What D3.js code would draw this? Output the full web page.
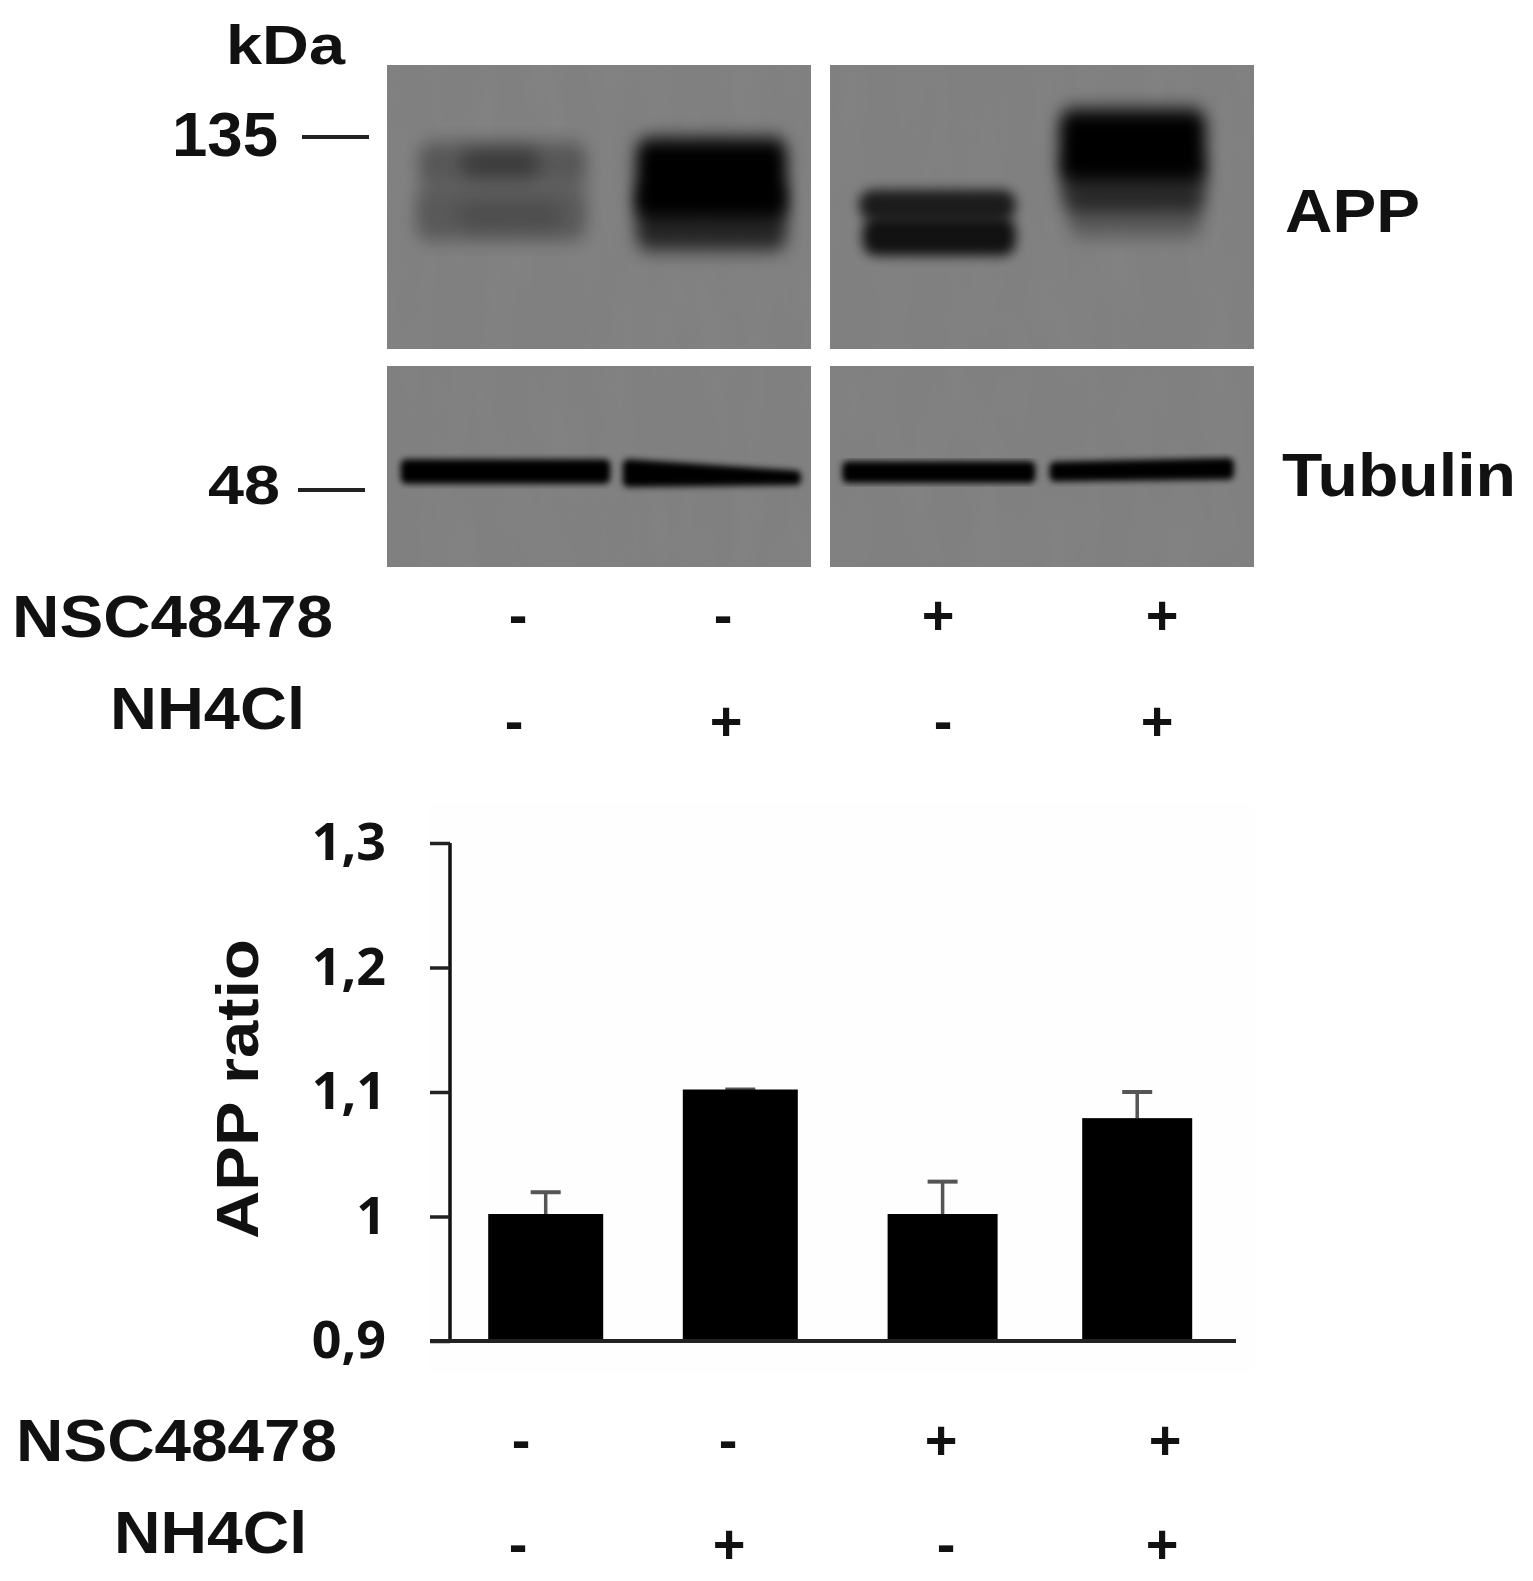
<!DOCTYPE html>
<html><head><meta charset="utf-8"><style>html,body{margin:0;background:#fff}svg{display:block;filter:blur(.7px)}</style>
<script src="https://cdn.jsdelivr.net/npm/d3@7/dist/d3.min.js"></script></head><body><svg id="c" width="1533" height="1581"></svg>
<script>
// Bar chart data
const conditions = ["a","b","c","d"];
const appRatio = [1.002, 1.102, 1.002, 1.079];
const errorTop = [1.0195, 1.102, 1.028, 1.1];
const yTicks = [0.9, 1, 1.1, 1.2, 1.3];
const yTickLabels = ["0,9","1","1,1","1,2","1,3"];
const nsc = ["-","-","+","+"];
const nh4 = ["-","+","-","+"];
// Blot data: position along gel (%), apparent mass (kDa), band density (0-1)
const appBands = [
  {g0:3.6, g1:23, m0:133, m1:100, d:.12},
  {g0:3.7, g1:22.8, m0:133, m1:118, d:.22},
  {g0:8.5, g1:17.5, m0:131, m1:120, d:.3},
  {g0:3.2, g1:22.8, m0:116.6, m1:100, d:.2},
  {g0:8, g1:20, m0:112, m1:103, d:.12},
  {g0:28.6, g1:45.9, m0:135, m1:107, d:1},
  {g0:28.6, g1:45.9, m0:118, m1:97, d:.7},
  {g0:54.2, g1:72.2, m0:116, m1:106, d:.78},
  {g0:54.6, g1:72.2, m0:107, m1:95.5, d:.86},
  {g0:77.2, g1:94, m0:147, m1:119, d:1},
  {g0:77.4, g1:94, m0:127, m1:109, d:.6},
  {g0:78.2, g1:93.6, m0:115, m1:101, d:.3}
];
const tubBands = [
  {g0:2.2, g1:25, m0L:51.7, m0R:51.7, m1L:49.7, m1R:49.7},
  {g0:27.7, g1:46.9, m0L:51.7, m0R:50.0, m1L:49.2, m1R:49.5},
  {g0:52.9, g1:73.8, m0L:51.4, m0R:51.4, m1L:49.8, m1R:49.8},
  {g0:76.7, g1:96.6, m0L:51.3, m0R:51.9, m1L:50, m1R:50.3}
];

const svg = d3.select("#c");
const defs = svg.append("defs");
function blurFilter(id,sd){
  defs.append("filter").attr("id",id).attr("x","-30%").attr("y","-80%").attr("width","160%").attr("height","260%")
    .append("feGaussianBlur").attr("stdDeviation",sd);
}
blurFilter("soft","6 6");
blurFilter("softer","8 9");
blurFilter("tight","3");
const grain = defs.append("filter").attr("id","grain").attr("x","0").attr("y","0").attr("width","100%").attr("height","100%");
grain.append("feTurbulence").attr("type","fractalNoise").attr("baseFrequency","0.03 0.008").attr("numOctaves",3).attr("seed",7);
grain.append("feColorMatrix").attr("type","matrix").attr("values","0 0 0 0 0.5  0 0 0 0 0.5  0 0 0 0 0.5  0.9 0 0 0 -0.35");

const gelX = d3.scaleLinear().domain([0,100]).range([387,1258]);
const massY = d3.scaleLog().domain([135,48]).range([138,490]);
const panelCols = [[387,811],[830,1254]];
const panelRows = [[65,349],[366,567]];
const blot = svg.append("g");
panelRows.forEach((r,ri)=>panelCols.forEach((c,ci)=>{
  const id=`p${ri}${ci}`;
  defs.append("clipPath").attr("id",id).append("rect").attr("x",c[0]).attr("y",r[0]).attr("width",c[1]-c[0]).attr("height",r[1]-r[0]);
  const g=blot.append("g").attr("clip-path",`url(#${id})`);
  g.append("rect").attr("x",c[0]).attr("y",r[0]).attr("width",c[1]-c[0]).attr("height",r[1]-r[0]).attr("fill","#808080");
  g.append("rect").attr("x",c[0]).attr("y",r[0]).attr("width",c[1]-c[0]).attr("height",r[1]-r[0]).attr("filter","url(#grain)").attr("opacity",.1);
  const within=b=>gelX(b.g0)<c[1]&&gelX(b.g1)>c[0];
  if(ri===0){
    g.selectAll(".b").data(appBands.filter(within)).join("rect")
     .attr("x",b=>gelX(b.g0)).attr("width",b=>gelX(b.g1)-gelX(b.g0))
     .attr("y",b=>massY(b.m0)).attr("height",b=>massY(b.m1)-massY(b.m0))
     .attr("rx",14).attr("fill","#000").attr("opacity",b=>b.d)
     .attr("filter",b=>(b.g0>50&&b.g1<75)?"url(#soft)":"url(#softer)");
  } else {
    g.selectAll(".b").data(tubBands.filter(within)).join("path")
     .attr("d",b=>d3.line()([[gelX(b.g0),massY(b.m0L)],[gelX(b.g1),massY(b.m0R)],[gelX(b.g1),massY(b.m1R)],[gelX(b.g0),massY(b.m1L)]])+"Z")
     .attr("fill","#050505").attr("stroke","#050505").attr("stroke-width",11).attr("stroke-linejoin","round").attr("filter","url(#tight)");
  }
}));

function label(t,x0,x1,base,size){
  svg.append("text").attr("x",x0).attr("y",base).attr("textLength",x1-x0).attr("lengthAdjust","spacingAndGlyphs")
    .attr("font-family","Liberation Sans").attr("font-weight",700).attr("font-size",size).attr("fill","#111").text(t);
}
label("kDa",226,345,64,56);
label("135",172,278,156,63);
label("48",208,280,504,56);
label("APP",1285,1420,232,62);
label("Tubulin",1282,1516,496,62);
label("NSC48478",12,333,637,60);
label("NH4Cl",110,305,729,60);
label("NSC48478",16,337,1461,60);
label("NH4Cl",114,307,1553,60);
svg.selectAll(".dash").data([[302,369,137],[298,365,490]]).join("line")
  .attr("x1",d=>d[0]).attr("x2",d=>d[1]).attr("y1",d=>d[2]).attr("y2",d=>d[2]).attr("stroke","#222").attr("stroke-width",4);

function signs(vals,xs,y){
  svg.append("g").selectAll("text").data(vals).join("text")
    .attr("x",(d,i)=>xs[i]).attr("y",y).attr("text-anchor","middle").attr("dominant-baseline","central")
    .attr("font-family","Liberation Sans").attr("font-weight",700).attr("font-size",56).attr("fill","#111").text(d=>d);
}
signs(nsc,[518,723,938,1162],614);
signs(nh4,[514,726,943,1157],720);
signs(nsc,[521,728,941,1165],1439);
signs(nh4,[518,729,946,1162],1543);

// bar chart
svg.append("rect").attr("x",430).attr("y",803).attr("width",825).attr("height",570).attr("fill","#fefefe");
const x = d3.scaleOrdinal(conditions,[545.7,740.3,942.6,1137.2]);
const w = d3.scaleOrdinal(conditions,[115,115,110,110]);
const y = d3.scaleLinear().domain([0.9,1.3]).range([1341,843]);
const chart = svg.append("g");
const axis = chart.append("g").attr("transform","translate(450,0)").call(
  d3.axisLeft(y).tickValues(yTicks).tickSize(20).tickPadding(44).tickFormat((d,i)=>yTickLabels[i]));
axis.select(".domain").attr("stroke","#111").attr("stroke-width",3.5).attr("d",`M0,${y(1.3)}V${y(.9)}`);
axis.selectAll(".tick line").attr("stroke","#222").attr("stroke-width",3.5);
axis.selectAll(".tick text").attr("font-family","Open Sans").attr("font-weight",700).attr("font-size",52).attr("fill","#111");
chart.selectAll(".err").data(conditions).join("line").attr("x1",d=>x(d)).attr("x2",d=>x(d))
  .attr("y1",(d,i)=>y(errorTop[i])).attr("y2",(d,i)=>y(appRatio[i])).attr("stroke","#555").attr("stroke-width",3.5);
chart.selectAll(".cap").data(conditions).join("line").attr("x1",d=>x(d)-15).attr("x2",d=>x(d)+15)
  .attr("y1",(d,i)=>y(errorTop[i])).attr("y2",(d,i)=>y(errorTop[i])).attr("stroke","#555").attr("stroke-width",4);
chart.selectAll(".bar").data(conditions).join("rect").attr("x",d=>x(d)-w(d)/2).attr("width",d=>w(d))
  .attr("y",(d,i)=>y(appRatio[i])).attr("height",(d,i)=>y(.9)-y(appRatio[i])).attr("fill","#000");
chart.append("line").attr("x1",430).attr("x2",1236).attr("y1",y(.9)).attr("y2",y(.9)).attr("stroke","#222").attr("stroke-width",4);
svg.append("text").attr("transform","translate(258,1089) rotate(-90)").attr("text-anchor","middle")
  .attr("font-family","Liberation Sans").attr("font-weight",700).attr("font-size",60).attr("textLength",300).attr("lengthAdjust","spacingAndGlyphs").attr("fill","#111").text("APP ratio");
</script></body></html>
